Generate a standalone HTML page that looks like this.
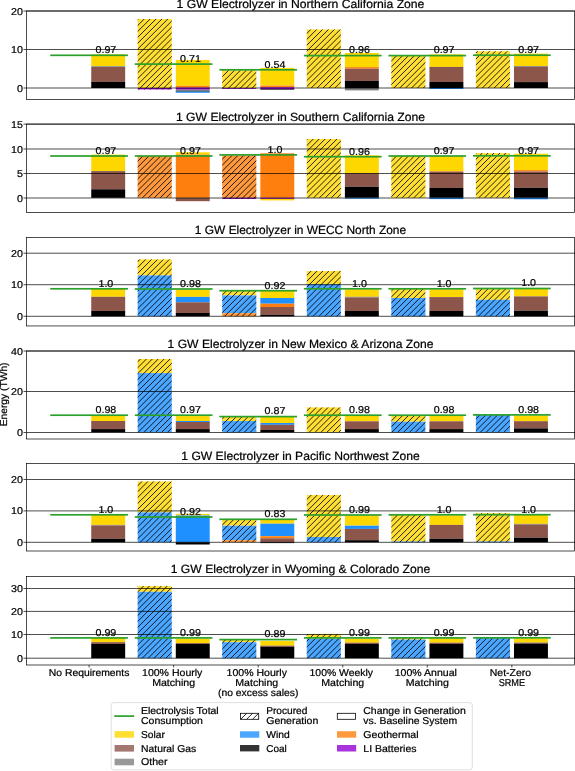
<!DOCTYPE html>
<html><head><meta charset="utf-8"><style>
html,body{margin:0;padding:0;background:#fff;width:575px;height:771px;overflow:hidden}
svg{display:block;will-change:transform}
text{font-family:"Liberation Sans",sans-serif;fill:#000;stroke:#000;stroke-width:0.22px}
</style></head><body>
<svg width="575" height="771" viewBox="0 0 575 771" text-rendering="geometricPrecision">
<rect width="575" height="771" fill="#fff"/>
<defs>
<pattern id="h" patternUnits="userSpaceOnUse" width="4.1719" height="10" patternTransform="rotate(45)">
<rect x="2.2370" y="0" width="0.9" height="10" fill="#000" fill-opacity="0.85"/>
</pattern>
</defs>
<rect x="91.24" y="54.3" width="33.93" height="12" fill="#FFD700"/>
<rect x="91.24" y="66.3" width="33.93" height="0.7" fill="#6B7A8C"/>
<rect x="91.24" y="67" width="33.93" height="14.9" fill="#8C564B"/>
<rect x="91.24" y="81.9" width="33.93" height="6.1" fill="#000000"/>
<rect x="137.68" y="19" width="34.06" height="69" fill="#FFDF33"/>
<rect x="137.68" y="88" width="34.06" height="1.4" fill="#9400D3"/>
<clipPath id="c1"><rect x="137.68" y="19" width="34.06" height="70.4"/></clipPath><path clip-path="url(#c1)" d="M136.68 20.67L139.35 18M136.68 26.57L145.25 18M136.68 32.47L151.15 18M136.68 38.37L157.05 18M136.68 44.27L162.95 18M136.68 50.17L168.85 18M136.68 56.07L172.74 20.01M136.68 61.97L172.74 25.91M136.68 67.87L172.74 31.81M136.68 73.77L172.74 37.71M136.68 79.67L172.74 43.61M136.68 85.57L172.74 49.51M137.75 90.4L172.74 55.41M143.65 90.4L172.74 61.31M149.55 90.4L172.74 67.21M155.45 90.4L172.74 73.11M161.35 90.4L172.74 79.01M167.25 90.4L172.74 84.91" stroke="#000" stroke-opacity="0.85" stroke-width="1.0" fill="none"/>
<rect x="175.79" y="59.9" width="33.93" height="25.9" fill="#FFD700"/>
<rect x="175.79" y="85.8" width="33.93" height="1.8" fill="#FF7F0E"/>
<rect x="175.79" y="87.6" width="33.93" height="2.1" fill="#9400D3"/>
<rect x="175.79" y="89.7" width="33.93" height="1.2" fill="#808080"/>
<rect x="175.79" y="90.9" width="33.93" height="0.7" fill="#000000"/>
<rect x="175.79" y="91.6" width="33.93" height="1.2" fill="#1E90FF"/>
<rect x="222.23" y="70.3" width="34.06" height="17.7" fill="#FFDF33"/>
<rect x="222.23" y="88" width="34.06" height="0.8" fill="#9400D3"/>
<clipPath id="c2"><rect x="222.23" y="70.3" width="34.06" height="18.5"/></clipPath><path clip-path="url(#c2)" d="M221.23 71.82L223.75 69.3M221.23 77.72L229.65 69.3M221.23 83.62L235.55 69.3M221.23 89.52L241.45 69.3M226.85 89.8L247.35 69.3M232.75 89.8L253.25 69.3M238.65 89.8L257.29 71.16M244.55 89.8L257.29 77.06M250.45 89.8L257.29 82.96M256.35 89.8L257.29 88.86" stroke="#000" stroke-opacity="0.85" stroke-width="1.0" fill="none"/>
<rect x="260.34" y="67.9" width="33.93" height="17.7" fill="#FFD700"/>
<rect x="260.34" y="85.6" width="33.93" height="1.7" fill="#FF7F0E"/>
<rect x="260.34" y="87.3" width="33.93" height="1.8" fill="#9400D3"/>
<rect x="260.34" y="89.1" width="33.93" height="0.6" fill="#000000"/>
<rect x="306.78" y="29.5" width="34.06" height="58.5" fill="#FFDF33"/>
<clipPath id="c3"><rect x="306.78" y="29.5" width="34.06" height="58.5"/></clipPath><path clip-path="url(#c3)" d="M305.78 28.57L305.85 28.5M305.78 34.47L311.75 28.5M305.78 40.37L317.65 28.5M305.78 46.27L323.55 28.5M305.78 52.17L329.45 28.5M305.78 58.07L335.35 28.5M305.78 63.97L341.25 28.5M305.78 69.87L341.84 33.81M305.78 75.77L341.84 39.71M305.78 81.67L341.84 45.61M305.78 87.57L341.84 51.51M310.25 89L341.84 57.41M316.15 89L341.84 63.31M322.05 89L341.84 69.21M327.95 89L341.84 75.11M333.85 89L341.84 81.01M339.75 89L341.84 86.91" stroke="#000" stroke-opacity="0.85" stroke-width="1.0" fill="none"/>
<rect x="344.89" y="53" width="33.93" height="14.1" fill="#FFD700"/>
<rect x="344.89" y="67.1" width="33.93" height="1.6" fill="#FF7F0E"/>
<rect x="344.89" y="68.7" width="33.93" height="12.2" fill="#8C564B"/>
<rect x="344.89" y="80.9" width="33.93" height="7.1" fill="#000000"/>
<rect x="344.89" y="88" width="33.93" height="2.4" fill="#808080"/>
<rect x="391.33" y="55.6" width="34.06" height="32.4" fill="#FFDF33"/>
<clipPath id="c4"><rect x="391.33" y="55.6" width="34.06" height="32.4"/></clipPath><path clip-path="url(#c4)" d="M390.33 56.12L391.85 54.6M390.33 62.02L397.75 54.6M390.33 67.92L403.65 54.6M390.33 73.82L409.55 54.6M390.33 79.72L415.45 54.6M390.33 85.62L421.35 54.6M392.85 89L426.39 55.46M398.75 89L426.39 61.36M404.65 89L426.39 67.26M410.55 89L426.39 73.16M416.45 89L426.39 79.06M422.35 89L426.39 84.96" stroke="#000" stroke-opacity="0.85" stroke-width="1.0" fill="none"/>
<rect x="429.44" y="54.3" width="33.93" height="12.6" fill="#FFD700"/>
<rect x="429.44" y="66.9" width="33.93" height="15.1" fill="#8C564B"/>
<rect x="429.44" y="82" width="33.93" height="6" fill="#000000"/>
<rect x="429.44" y="88" width="33.93" height="1" fill="#1E90FF"/>
<rect x="475.88" y="51.3" width="34.06" height="36.7" fill="#FFDF33"/>
<clipPath id="c5"><rect x="475.88" y="51.3" width="34.06" height="36.7"/></clipPath><path clip-path="url(#c5)" d="M474.88 54.17L478.75 50.3M474.88 60.07L484.65 50.3M474.88 65.97L490.55 50.3M474.88 71.87L496.45 50.3M474.88 77.77L502.35 50.3M474.88 83.67L508.25 50.3M475.45 89L510.94 53.51M481.35 89L510.94 59.41M487.25 89L510.94 65.31M493.15 89L510.94 71.21M499.05 89L510.94 77.11M504.95 89L510.94 83.01M510.85 89L510.94 88.91" stroke="#000" stroke-opacity="0.85" stroke-width="1.0" fill="none"/>
<rect x="513.99" y="53.6" width="33.93" height="12.4" fill="#FFD700"/>
<rect x="513.99" y="66" width="33.93" height="0.7" fill="#6B7A8C"/>
<rect x="513.99" y="66.7" width="33.93" height="15.4" fill="#8C564B"/>
<rect x="513.99" y="82.1" width="33.93" height="5.9" fill="#000000"/>
<line x1="26.5" x2="575" y1="11" y2="11" stroke="#000" stroke-width="0.7"/>
<line x1="23.5" x2="26.5" y1="11" y2="11" stroke="#000" stroke-width="0.7"/>
<text x="22.9" y="14.5" font-size="10" text-anchor="end" textLength="11.9" lengthAdjust="spacingAndGlyphs">20</text>
<line x1="26.5" x2="575" y1="49.5" y2="49.5" stroke="#000" stroke-width="0.7"/>
<line x1="23.5" x2="26.5" y1="49.5" y2="49.5" stroke="#000" stroke-width="0.7"/>
<text x="22.9" y="53" font-size="10" text-anchor="end" textLength="11.9" lengthAdjust="spacingAndGlyphs">10</text>
<line x1="26.5" x2="575" y1="88" y2="88" stroke="#000" stroke-width="0.7"/>
<line x1="23.5" x2="26.5" y1="88" y2="88" stroke="#000" stroke-width="0.7"/>
<text x="22.9" y="91.5" font-size="10" text-anchor="end" textLength="5.95" lengthAdjust="spacingAndGlyphs">0</text>
<rect x="26.5" y="11" width="548" height="88.5" fill="none" stroke="#000" stroke-width="0.7"/>
<rect x="50.25" y="54.45" width="77.7" height="1.7" fill="#2CA02C"/>
<rect x="134.8" y="63.25" width="77.7" height="1.7" fill="#2CA02C"/>
<rect x="219.35" y="68.95" width="77.7" height="1.7" fill="#2CA02C"/>
<rect x="303.9" y="54.75" width="77.7" height="1.7" fill="#2CA02C"/>
<rect x="388.45" y="54.75" width="77.7" height="1.7" fill="#2CA02C"/>
<rect x="473" y="54.35" width="77.7" height="1.7" fill="#2CA02C"/>
<text x="105.9" y="53.1" font-size="10" text-anchor="middle" textLength="20.82" lengthAdjust="spacingAndGlyphs">0.97</text>
<text x="190.45" y="61.9" font-size="10" text-anchor="middle" textLength="20.82" lengthAdjust="spacingAndGlyphs">0.71</text>
<text x="275" y="67.6" font-size="10" text-anchor="middle" textLength="20.82" lengthAdjust="spacingAndGlyphs">0.54</text>
<text x="359.55" y="53.4" font-size="10" text-anchor="middle" textLength="20.82" lengthAdjust="spacingAndGlyphs">0.96</text>
<text x="444.1" y="53.4" font-size="10" text-anchor="middle" textLength="20.82" lengthAdjust="spacingAndGlyphs">0.97</text>
<text x="528.65" y="53" font-size="10" text-anchor="middle" textLength="20.82" lengthAdjust="spacingAndGlyphs">0.97</text>
<text x="300.5" y="7.9" font-size="11.9" text-anchor="middle" textLength="247.83" lengthAdjust="spacingAndGlyphs">1 GW Electrolyzer in Northern California Zone</text>
<rect x="91.24" y="154.6" width="33.93" height="16.5" fill="#FFD700"/>
<rect x="91.24" y="171.1" width="33.93" height="18.2" fill="#8C564B"/>
<rect x="91.24" y="189.3" width="33.93" height="8.5" fill="#000000"/>
<rect x="137.68" y="156" width="34.06" height="41.8" fill="#FF993E"/>
<clipPath id="c6"><rect x="137.68" y="156" width="34.06" height="41.8"/></clipPath><path clip-path="url(#c6)" d="M136.68 156.37L138.05 155M136.68 162.27L143.95 155M136.68 168.17L149.85 155M136.68 174.07L155.75 155M136.68 179.97L161.65 155M136.68 185.87L167.55 155M136.68 191.77L172.74 155.71M136.68 197.67L172.74 161.61M141.45 198.8L172.74 167.51M147.35 198.8L172.74 173.41M153.25 198.8L172.74 179.31M159.15 198.8L172.74 185.21M165.05 198.8L172.74 191.11M170.95 198.8L172.74 197.01" stroke="#000" stroke-opacity="0.85" stroke-width="1.0" fill="none"/>
<rect x="175.79" y="152.3" width="33.93" height="2.3" fill="#FFD700"/>
<rect x="175.79" y="154.6" width="33.93" height="43.2" fill="#FF7F0E"/>
<rect x="175.79" y="197.8" width="33.93" height="3.4" fill="#8C564B"/>
<rect x="222.23" y="155.4" width="34.06" height="42.4" fill="#FF993E"/>
<rect x="222.23" y="197.8" width="34.06" height="1.1" fill="#9400D3"/>
<clipPath id="c7"><rect x="222.23" y="155.4" width="34.06" height="43.5"/></clipPath><path clip-path="url(#c7)" d="M221.23 154.42L221.25 154.4M221.23 160.32L227.15 154.4M221.23 166.22L233.05 154.4M221.23 172.12L238.95 154.4M221.23 178.02L244.85 154.4M221.23 183.92L250.75 154.4M221.23 189.82L256.65 154.4M221.23 195.72L257.29 159.66M222.95 199.9L257.29 165.56M228.85 199.9L257.29 171.46M234.75 199.9L257.29 177.36M240.65 199.9L257.29 183.26M246.55 199.9L257.29 189.16M252.45 199.9L257.29 195.06" stroke="#000" stroke-opacity="0.85" stroke-width="1.0" fill="none"/>
<rect x="260.34" y="153.3" width="33.93" height="44.5" fill="#FF7F0E"/>
<rect x="260.34" y="197.8" width="33.93" height="1.1" fill="#9400D3"/>
<rect x="260.34" y="198.9" width="33.93" height="1.5" fill="#FFD700"/>
<rect x="306.78" y="139" width="34.06" height="58.8" fill="#FFDF33"/>
<clipPath id="c8"><rect x="306.78" y="139" width="34.06" height="58.8"/></clipPath><path clip-path="url(#c8)" d="M305.78 140.67L308.45 138M305.78 146.57L314.35 138M305.78 152.47L320.25 138M305.78 158.37L326.15 138M305.78 164.27L332.05 138M305.78 170.17L337.95 138M305.78 176.07L341.84 140.01M305.78 181.97L341.84 145.91M305.78 187.87L341.84 151.81M305.78 193.77L341.84 157.71M306.65 198.8L341.84 163.61M312.55 198.8L341.84 169.51M318.45 198.8L341.84 175.41M324.35 198.8L341.84 181.31M330.25 198.8L341.84 187.21M336.15 198.8L341.84 193.11" stroke="#000" stroke-opacity="0.85" stroke-width="1.0" fill="none"/>
<rect x="344.89" y="155.3" width="33.93" height="18" fill="#FFD700"/>
<rect x="344.89" y="173.3" width="33.93" height="13.5" fill="#8C564B"/>
<rect x="344.89" y="186.8" width="33.93" height="11" fill="#000000"/>
<rect x="344.89" y="197.8" width="33.93" height="0.9" fill="#1E90FF"/>
<rect x="391.33" y="156" width="34.06" height="41.8" fill="#FFDF33"/>
<clipPath id="c9"><rect x="391.33" y="156" width="34.06" height="41.8"/></clipPath><path clip-path="url(#c9)" d="M390.33 156.42L391.75 155M390.33 162.32L397.65 155M390.33 168.22L403.55 155M390.33 174.12L409.45 155M390.33 180.02L415.35 155M390.33 185.92L421.25 155M390.33 191.82L426.39 155.76M390.33 197.72L426.39 161.66M395.15 198.8L426.39 167.56M401.05 198.8L426.39 173.46M406.95 198.8L426.39 179.36M412.85 198.8L426.39 185.26M418.75 198.8L426.39 191.16M424.65 198.8L426.39 197.06" stroke="#000" stroke-opacity="0.85" stroke-width="1.0" fill="none"/>
<rect x="429.44" y="156.3" width="33.93" height="14.8" fill="#FFD700"/>
<rect x="429.44" y="171.1" width="33.93" height="0.6" fill="#FF7F0E"/>
<rect x="429.44" y="171.7" width="33.93" height="16.3" fill="#8C564B"/>
<rect x="429.44" y="188" width="33.93" height="9.8" fill="#000000"/>
<rect x="429.44" y="197.8" width="33.93" height="1.3" fill="#1E90FF"/>
<rect x="475.88" y="153.1" width="34.06" height="44.7" fill="#FFDF33"/>
<clipPath id="c10"><rect x="475.88" y="153.1" width="34.06" height="44.7"/></clipPath><path clip-path="url(#c10)" d="M474.88 154.47L477.25 152.1M474.88 160.37L483.15 152.1M474.88 166.27L489.05 152.1M474.88 172.17L494.95 152.1M474.88 178.07L500.85 152.1M474.88 183.97L506.75 152.1M474.88 189.87L510.94 153.81M474.88 195.77L510.94 159.71M477.75 198.8L510.94 165.61M483.65 198.8L510.94 171.51M489.55 198.8L510.94 177.41M495.45 198.8L510.94 183.31M501.35 198.8L510.94 189.21M507.25 198.8L510.94 195.11" stroke="#000" stroke-opacity="0.85" stroke-width="1.0" fill="none"/>
<rect x="513.99" y="153.7" width="33.93" height="16.4" fill="#FFD700"/>
<rect x="513.99" y="170.1" width="33.93" height="1.4" fill="#FF7F0E"/>
<rect x="513.99" y="171.5" width="33.93" height="16.3" fill="#8C564B"/>
<rect x="513.99" y="187.8" width="33.93" height="10" fill="#000000"/>
<rect x="513.99" y="197.8" width="33.93" height="1.5" fill="#1E90FF"/>
<line x1="26.5" x2="575" y1="124.1" y2="124.1" stroke="#000" stroke-width="0.7"/>
<line x1="23.5" x2="26.5" y1="124.1" y2="124.1" stroke="#000" stroke-width="0.7"/>
<text x="22.9" y="127.6" font-size="10" text-anchor="end" textLength="11.9" lengthAdjust="spacingAndGlyphs">15</text>
<line x1="26.5" x2="575" y1="149" y2="149" stroke="#000" stroke-width="0.7"/>
<line x1="23.5" x2="26.5" y1="149" y2="149" stroke="#000" stroke-width="0.7"/>
<text x="22.9" y="152.5" font-size="10" text-anchor="end" textLength="11.9" lengthAdjust="spacingAndGlyphs">10</text>
<line x1="26.5" x2="575" y1="173.5" y2="173.5" stroke="#000" stroke-width="0.7"/>
<line x1="23.5" x2="26.5" y1="173.5" y2="173.5" stroke="#000" stroke-width="0.7"/>
<text x="22.9" y="177" font-size="10" text-anchor="end" textLength="5.95" lengthAdjust="spacingAndGlyphs">5</text>
<line x1="26.5" x2="575" y1="198" y2="198" stroke="#000" stroke-width="0.7"/>
<line x1="23.5" x2="26.5" y1="198" y2="198" stroke="#000" stroke-width="0.7"/>
<text x="22.9" y="201.5" font-size="10" text-anchor="end" textLength="5.95" lengthAdjust="spacingAndGlyphs">0</text>
<rect x="26.5" y="124.1" width="548" height="88.4" fill="none" stroke="#000" stroke-width="0.7"/>
<rect x="50.25" y="155.15" width="77.7" height="1.7" fill="#2CA02C"/>
<rect x="134.8" y="155.15" width="77.7" height="1.7" fill="#2CA02C"/>
<rect x="219.35" y="154.05" width="77.7" height="1.7" fill="#2CA02C"/>
<rect x="303.9" y="155.85" width="77.7" height="1.7" fill="#2CA02C"/>
<rect x="388.45" y="155.15" width="77.7" height="1.7" fill="#2CA02C"/>
<rect x="473" y="154.95" width="77.7" height="1.7" fill="#2CA02C"/>
<text x="105.9" y="153.8" font-size="10" text-anchor="middle" textLength="20.82" lengthAdjust="spacingAndGlyphs">0.97</text>
<text x="190.45" y="153.8" font-size="10" text-anchor="middle" textLength="20.82" lengthAdjust="spacingAndGlyphs">0.97</text>
<text x="275" y="152.7" font-size="10" text-anchor="middle" textLength="14.87" lengthAdjust="spacingAndGlyphs">1.0</text>
<text x="359.55" y="154.5" font-size="10" text-anchor="middle" textLength="20.82" lengthAdjust="spacingAndGlyphs">0.96</text>
<text x="444.1" y="153.8" font-size="10" text-anchor="middle" textLength="20.82" lengthAdjust="spacingAndGlyphs">0.97</text>
<text x="528.65" y="153.6" font-size="10" text-anchor="middle" textLength="20.82" lengthAdjust="spacingAndGlyphs">0.97</text>
<text x="300.5" y="121" font-size="11.9" text-anchor="middle" textLength="249.02" lengthAdjust="spacingAndGlyphs">1 GW Electrolyzer in Southern California Zone</text>
<rect x="91.24" y="288.8" width="33.93" height="8" fill="#FFD700"/>
<rect x="91.24" y="296.8" width="33.93" height="14.2" fill="#8C564B"/>
<rect x="91.24" y="311" width="33.93" height="5.3" fill="#000000"/>
<rect x="137.68" y="259.4" width="34.06" height="16" fill="#FFDF33"/>
<rect x="137.68" y="275.4" width="34.06" height="40.9" fill="#4BA6FF"/>
<clipPath id="c11"><rect x="137.68" y="259.4" width="34.06" height="56.9"/></clipPath><path clip-path="url(#c11)" d="M136.68 262.57L140.85 258.4M136.68 268.47L146.75 258.4M136.68 274.37L152.65 258.4M136.68 280.27L158.55 258.4M136.68 286.17L164.45 258.4M136.68 292.07L170.35 258.4M136.68 297.97L172.74 261.91M136.68 303.87L172.74 267.81M136.68 309.77L172.74 273.71M136.68 315.67L172.74 279.61M140.95 317.3L172.74 285.51M146.85 317.3L172.74 291.41M152.75 317.3L172.74 297.31M158.65 317.3L172.74 303.21M164.55 317.3L172.74 309.11M170.45 317.3L172.74 315.01" stroke="#000" stroke-opacity="0.85" stroke-width="1.0" fill="none"/>
<rect x="175.79" y="289.9" width="33.93" height="7" fill="#FFD700"/>
<rect x="175.79" y="296.9" width="33.93" height="5.4" fill="#1E90FF"/>
<rect x="175.79" y="302.3" width="33.93" height="10.7" fill="#8C564B"/>
<rect x="175.79" y="313" width="33.93" height="3.3" fill="#000000"/>
<rect x="222.23" y="290.5" width="34.06" height="4.9" fill="#FFDF33"/>
<rect x="222.23" y="295.4" width="34.06" height="17.7" fill="#4BA6FF"/>
<rect x="222.23" y="313.1" width="34.06" height="3.2" fill="#FF993E"/>
<clipPath id="c12"><rect x="222.23" y="290.5" width="34.06" height="25.8"/></clipPath><path clip-path="url(#c12)" d="M221.23 290.12L221.85 289.5M221.23 296.02L227.75 289.5M221.23 301.92L233.65 289.5M221.23 307.82L239.55 289.5M221.23 313.72L245.45 289.5M223.55 317.3L251.35 289.5M229.45 317.3L257.25 289.5M235.35 317.3L257.29 295.36M241.25 317.3L257.29 301.26M247.15 317.3L257.29 307.16M253.05 317.3L257.29 313.06" stroke="#000" stroke-opacity="0.85" stroke-width="1.0" fill="none"/>
<rect x="260.34" y="291" width="33.93" height="7" fill="#FFD700"/>
<rect x="260.34" y="298" width="33.93" height="5.7" fill="#1E90FF"/>
<rect x="260.34" y="303.7" width="33.93" height="3.3" fill="#FF7F0E"/>
<rect x="260.34" y="307" width="33.93" height="7.9" fill="#8C564B"/>
<rect x="260.34" y="314.9" width="33.93" height="1.4" fill="#000000"/>
<rect x="306.78" y="271" width="34.06" height="13.1" fill="#FFDF33"/>
<rect x="306.78" y="284.1" width="34.06" height="32.2" fill="#4BA6FF"/>
<clipPath id="c13"><rect x="306.78" y="271" width="34.06" height="45.3"/></clipPath><path clip-path="url(#c13)" d="M305.78 270.47L306.25 270M305.78 276.37L312.15 270M305.78 282.27L318.05 270M305.78 288.17L323.95 270M305.78 294.07L329.85 270M305.78 299.97L335.75 270M305.78 305.87L341.65 270M305.78 311.77L341.84 275.71M306.15 317.3L341.84 281.61M312.05 317.3L341.84 287.51M317.95 317.3L341.84 293.41M323.85 317.3L341.84 299.31M329.75 317.3L341.84 305.21M335.65 317.3L341.84 311.11M341.55 317.3L341.84 317.01" stroke="#000" stroke-opacity="0.85" stroke-width="1.0" fill="none"/>
<rect x="344.89" y="289.3" width="33.93" height="7.5" fill="#FFD700"/>
<rect x="344.89" y="296.8" width="33.93" height="0.6" fill="#6B7A8C"/>
<rect x="344.89" y="297.4" width="33.93" height="13.6" fill="#8C564B"/>
<rect x="344.89" y="311" width="33.93" height="5.3" fill="#000000"/>
<rect x="391.33" y="289" width="34.06" height="9" fill="#FFDF33"/>
<rect x="391.33" y="298" width="34.06" height="18.3" fill="#4BA6FF"/>
<clipPath id="c14"><rect x="391.33" y="289" width="34.06" height="27.3"/></clipPath><path clip-path="url(#c14)" d="M390.33 292.12L394.45 288M390.33 298.02L400.35 288M390.33 303.92L406.25 288M390.33 309.82L412.15 288M390.33 315.72L418.05 288M394.65 317.3L423.95 288M400.55 317.3L426.39 291.46M406.45 317.3L426.39 297.36M412.35 317.3L426.39 303.26M418.25 317.3L426.39 309.16M424.15 317.3L426.39 315.06" stroke="#000" stroke-opacity="0.85" stroke-width="1.0" fill="none"/>
<rect x="429.44" y="289.3" width="33.93" height="7.8" fill="#FFD700"/>
<rect x="429.44" y="297.1" width="33.93" height="13.9" fill="#8C564B"/>
<rect x="429.44" y="311" width="33.93" height="5.3" fill="#000000"/>
<rect x="475.88" y="288.7" width="34.06" height="11.1" fill="#FFDF33"/>
<rect x="475.88" y="299.8" width="34.06" height="16.5" fill="#4BA6FF"/>
<clipPath id="c15"><rect x="475.88" y="288.7" width="34.06" height="27.6"/></clipPath><path clip-path="url(#c15)" d="M474.88 290.17L477.35 287.7M474.88 296.07L483.25 287.7M474.88 301.97L489.15 287.7M474.88 307.87L495.05 287.7M474.88 313.77L500.95 287.7M477.25 317.3L506.85 287.7M483.15 317.3L510.94 289.51M489.05 317.3L510.94 295.41M494.95 317.3L510.94 301.31M500.85 317.3L510.94 307.21M506.75 317.3L510.94 313.11" stroke="#000" stroke-opacity="0.85" stroke-width="1.0" fill="none"/>
<rect x="513.99" y="288.7" width="33.93" height="7.7" fill="#FFD700"/>
<rect x="513.99" y="296.4" width="33.93" height="14.3" fill="#8C564B"/>
<rect x="513.99" y="310.7" width="33.93" height="5.6" fill="#000000"/>
<line x1="26.5" x2="575" y1="253.2" y2="253.2" stroke="#000" stroke-width="0.7"/>
<line x1="23.5" x2="26.5" y1="253.2" y2="253.2" stroke="#000" stroke-width="0.7"/>
<text x="22.9" y="256.7" font-size="10" text-anchor="end" textLength="11.9" lengthAdjust="spacingAndGlyphs">20</text>
<line x1="26.5" x2="575" y1="284.7" y2="284.7" stroke="#000" stroke-width="0.7"/>
<line x1="23.5" x2="26.5" y1="284.7" y2="284.7" stroke="#000" stroke-width="0.7"/>
<text x="22.9" y="288.2" font-size="10" text-anchor="end" textLength="11.9" lengthAdjust="spacingAndGlyphs">10</text>
<line x1="26.5" x2="575" y1="316.3" y2="316.3" stroke="#000" stroke-width="0.7"/>
<line x1="23.5" x2="26.5" y1="316.3" y2="316.3" stroke="#000" stroke-width="0.7"/>
<text x="22.9" y="319.8" font-size="10" text-anchor="end" textLength="5.95" lengthAdjust="spacingAndGlyphs">0</text>
<rect x="26.5" y="237.5" width="548" height="88.45" fill="none" stroke="#000" stroke-width="0.7"/>
<rect x="50.25" y="287.95" width="77.7" height="1.7" fill="#2CA02C"/>
<rect x="134.8" y="288.15" width="77.7" height="1.7" fill="#2CA02C"/>
<rect x="219.35" y="289.85" width="77.7" height="1.7" fill="#2CA02C"/>
<rect x="303.9" y="287.95" width="77.7" height="1.7" fill="#2CA02C"/>
<rect x="388.45" y="287.95" width="77.7" height="1.7" fill="#2CA02C"/>
<rect x="473" y="287.65" width="77.7" height="1.7" fill="#2CA02C"/>
<text x="105.9" y="286.6" font-size="10" text-anchor="middle" textLength="14.87" lengthAdjust="spacingAndGlyphs">1.0</text>
<text x="190.45" y="286.8" font-size="10" text-anchor="middle" textLength="20.82" lengthAdjust="spacingAndGlyphs">0.98</text>
<text x="275" y="288.5" font-size="10" text-anchor="middle" textLength="20.82" lengthAdjust="spacingAndGlyphs">0.92</text>
<text x="359.55" y="286.6" font-size="10" text-anchor="middle" textLength="14.87" lengthAdjust="spacingAndGlyphs">1.0</text>
<text x="444.1" y="286.6" font-size="10" text-anchor="middle" textLength="14.87" lengthAdjust="spacingAndGlyphs">1.0</text>
<text x="528.65" y="286.3" font-size="10" text-anchor="middle" textLength="14.87" lengthAdjust="spacingAndGlyphs">1.0</text>
<text x="300.5" y="234.4" font-size="11.9" text-anchor="middle" textLength="211.22" lengthAdjust="spacingAndGlyphs">1 GW Electrolyzer in WECC North Zone</text>
<rect x="91.24" y="415.7" width="33.93" height="5.3" fill="#FFD700"/>
<rect x="91.24" y="421" width="33.93" height="8.1" fill="#8C564B"/>
<rect x="91.24" y="429.1" width="33.93" height="3.2" fill="#000000"/>
<rect x="137.68" y="359" width="34.06" height="14.1" fill="#FFDF33"/>
<rect x="137.68" y="373.1" width="34.06" height="59.2" fill="#4BA6FF"/>
<clipPath id="c16"><rect x="137.68" y="359" width="34.06" height="73.3"/></clipPath><path clip-path="url(#c16)" d="M136.68 362.87L141.55 358M136.68 368.77L147.45 358M136.68 374.67L153.35 358M136.68 380.57L159.25 358M136.68 386.47L165.15 358M136.68 392.37L171.05 358M136.68 398.27L172.74 362.21M136.68 404.17L172.74 368.11M136.68 410.07L172.74 374.01M136.68 415.97L172.74 379.91M136.68 421.87L172.74 385.81M136.68 427.77L172.74 391.71M137.05 433.3L172.74 397.61M142.95 433.3L172.74 403.51M148.85 433.3L172.74 409.41M154.75 433.3L172.74 415.31M160.65 433.3L172.74 421.21M166.55 433.3L172.74 427.11M172.45 433.3L172.74 433.01" stroke="#000" stroke-opacity="0.85" stroke-width="1.0" fill="none"/>
<rect x="175.79" y="416.1" width="33.93" height="4.9" fill="#FFD700"/>
<rect x="175.79" y="421" width="33.93" height="1" fill="#1E90FF"/>
<rect x="175.79" y="422" width="33.93" height="7.1" fill="#8C564B"/>
<rect x="175.79" y="429.1" width="33.93" height="3.2" fill="#000000"/>
<rect x="222.23" y="417" width="34.06" height="4" fill="#FFDF33"/>
<rect x="222.23" y="421" width="34.06" height="11.3" fill="#4BA6FF"/>
<clipPath id="c17"><rect x="222.23" y="417" width="34.06" height="15.3"/></clipPath><path clip-path="url(#c17)" d="M221.23 419.92L225.15 416M221.23 425.82L231.05 416M221.23 431.72L236.95 416M225.55 433.3L242.85 416M231.45 433.3L248.75 416M237.35 433.3L254.65 416M243.25 433.3L257.29 419.26M249.15 433.3L257.29 425.16M255.05 433.3L257.29 431.06" stroke="#000" stroke-opacity="0.85" stroke-width="1.0" fill="none"/>
<rect x="260.34" y="417" width="33.93" height="6" fill="#FFD700"/>
<rect x="260.34" y="423" width="33.93" height="1.8" fill="#1E90FF"/>
<rect x="260.34" y="424.8" width="33.93" height="5.2" fill="#8C564B"/>
<rect x="260.34" y="430" width="33.93" height="2.3" fill="#000000"/>
<rect x="306.78" y="407.4" width="34.06" height="24.9" fill="#FFDF33"/>
<clipPath id="c18"><rect x="306.78" y="407.4" width="34.06" height="24.9"/></clipPath><path clip-path="url(#c18)" d="M305.78 412.07L311.45 406.4M305.78 417.97L317.35 406.4M305.78 423.87L323.25 406.4M305.78 429.77L329.15 406.4M308.15 433.3L335.05 406.4M314.05 433.3L340.95 406.4M319.95 433.3L341.84 411.41M325.85 433.3L341.84 417.31M331.75 433.3L341.84 423.21M337.65 433.3L341.84 429.11" stroke="#000" stroke-opacity="0.85" stroke-width="1.0" fill="none"/>
<rect x="344.89" y="415.7" width="33.93" height="5.6" fill="#FFD700"/>
<rect x="344.89" y="421.3" width="33.93" height="7.8" fill="#8C564B"/>
<rect x="344.89" y="429.1" width="33.93" height="3.2" fill="#000000"/>
<rect x="391.33" y="415.7" width="34.06" height="6" fill="#FFDF33"/>
<rect x="391.33" y="421.7" width="34.06" height="10.6" fill="#4BA6FF"/>
<clipPath id="c19"><rect x="391.33" y="415.7" width="34.06" height="16.6"/></clipPath><path clip-path="url(#c19)" d="M390.33 416.02L391.65 414.7M390.33 421.92L397.55 414.7M390.33 427.82L403.45 414.7M390.75 433.3L409.35 414.7M396.65 433.3L415.25 414.7M402.55 433.3L421.15 414.7M408.45 433.3L426.39 415.36M414.35 433.3L426.39 421.26M420.25 433.3L426.39 427.16M426.15 433.3L426.39 433.06" stroke="#000" stroke-opacity="0.85" stroke-width="1.0" fill="none"/>
<rect x="429.44" y="415.7" width="33.93" height="5.6" fill="#FFD700"/>
<rect x="429.44" y="421.3" width="33.93" height="7.8" fill="#8C564B"/>
<rect x="429.44" y="429.1" width="33.93" height="3.2" fill="#000000"/>
<rect x="475.88" y="415" width="34.06" height="17.3" fill="#4BA6FF"/>
<clipPath id="c20"><rect x="475.88" y="415" width="34.06" height="17.3"/></clipPath><path clip-path="url(#c20)" d="M474.88 414.07L474.95 414M474.88 419.97L480.85 414M474.88 425.87L486.75 414M474.88 431.77L492.65 414M479.25 433.3L498.55 414M485.15 433.3L504.45 414M491.05 433.3L510.35 414M496.95 433.3L510.94 419.31M502.85 433.3L510.94 425.21M508.75 433.3L510.94 431.11" stroke="#000" stroke-opacity="0.85" stroke-width="1.0" fill="none"/>
<rect x="513.99" y="415.6" width="33.93" height="5.6" fill="#FFD700"/>
<rect x="513.99" y="421.2" width="33.93" height="7.2" fill="#8C564B"/>
<rect x="513.99" y="428.4" width="33.93" height="3.9" fill="#000000"/>
<line x1="26.5" x2="575" y1="351" y2="351" stroke="#000" stroke-width="0.7"/>
<line x1="23.5" x2="26.5" y1="351" y2="351" stroke="#000" stroke-width="0.7"/>
<text x="22.9" y="354.5" font-size="10" text-anchor="end" textLength="11.9" lengthAdjust="spacingAndGlyphs">40</text>
<line x1="26.5" x2="575" y1="391.5" y2="391.5" stroke="#000" stroke-width="0.7"/>
<line x1="23.5" x2="26.5" y1="391.5" y2="391.5" stroke="#000" stroke-width="0.7"/>
<text x="22.9" y="395" font-size="10" text-anchor="end" textLength="11.9" lengthAdjust="spacingAndGlyphs">20</text>
<line x1="26.5" x2="575" y1="432.5" y2="432.5" stroke="#000" stroke-width="0.7"/>
<line x1="23.5" x2="26.5" y1="432.5" y2="432.5" stroke="#000" stroke-width="0.7"/>
<text x="22.9" y="436" font-size="10" text-anchor="end" textLength="5.95" lengthAdjust="spacingAndGlyphs">0</text>
<rect x="26.5" y="351" width="548" height="88" fill="none" stroke="#000" stroke-width="0.7"/>
<rect x="50.25" y="414.35" width="77.7" height="1.7" fill="#2CA02C"/>
<rect x="134.8" y="414.35" width="77.7" height="1.7" fill="#2CA02C"/>
<rect x="219.35" y="415.75" width="77.7" height="1.7" fill="#2CA02C"/>
<rect x="303.9" y="414.35" width="77.7" height="1.7" fill="#2CA02C"/>
<rect x="388.45" y="414.35" width="77.7" height="1.7" fill="#2CA02C"/>
<rect x="473" y="414.05" width="77.7" height="1.7" fill="#2CA02C"/>
<text x="105.9" y="413" font-size="10" text-anchor="middle" textLength="20.82" lengthAdjust="spacingAndGlyphs">0.98</text>
<text x="190.45" y="413" font-size="10" text-anchor="middle" textLength="20.82" lengthAdjust="spacingAndGlyphs">0.97</text>
<text x="275" y="414.4" font-size="10" text-anchor="middle" textLength="20.82" lengthAdjust="spacingAndGlyphs">0.87</text>
<text x="359.55" y="413" font-size="10" text-anchor="middle" textLength="20.82" lengthAdjust="spacingAndGlyphs">0.98</text>
<text x="444.1" y="413" font-size="10" text-anchor="middle" textLength="20.82" lengthAdjust="spacingAndGlyphs">0.98</text>
<text x="528.65" y="412.7" font-size="10" text-anchor="middle" textLength="20.82" lengthAdjust="spacingAndGlyphs">0.98</text>
<text x="300.5" y="347.9" font-size="11.9" text-anchor="middle" textLength="265.8" lengthAdjust="spacingAndGlyphs">1 GW Electrolyzer in New Mexico &amp; Arizona Zone</text>
<rect x="91.24" y="514.8" width="33.93" height="10.1" fill="#FFD700"/>
<rect x="91.24" y="524.9" width="33.93" height="0.6" fill="#808080"/>
<rect x="91.24" y="525.5" width="33.93" height="13.3" fill="#8C564B"/>
<rect x="91.24" y="538.8" width="33.93" height="3.5" fill="#000000"/>
<rect x="137.68" y="481.4" width="34.06" height="31" fill="#FFDF33"/>
<rect x="137.68" y="512.4" width="34.06" height="29.9" fill="#4BA6FF"/>
<clipPath id="c21"><rect x="137.68" y="481.4" width="34.06" height="60.9"/></clipPath><path clip-path="url(#c21)" d="M136.68 480.87L137.15 480.4M136.68 486.77L143.05 480.4M136.68 492.67L148.95 480.4M136.68 498.57L154.85 480.4M136.68 504.47L160.75 480.4M136.68 510.37L166.65 480.4M136.68 516.27L172.55 480.4M136.68 522.17L172.74 486.11M136.68 528.07L172.74 492.01M136.68 533.97L172.74 497.91M136.68 539.87L172.74 503.81M139.15 543.3L172.74 509.71M145.05 543.3L172.74 515.61M150.95 543.3L172.74 521.51M156.85 543.3L172.74 527.41M162.75 543.3L172.74 533.31M168.65 543.3L172.74 539.21" stroke="#000" stroke-opacity="0.85" stroke-width="1.0" fill="none"/>
<rect x="175.79" y="513.9" width="33.93" height="1.6" fill="#FFD700"/>
<rect x="175.79" y="515.5" width="33.93" height="26.8" fill="#1E90FF"/>
<rect x="175.79" y="542.3" width="33.93" height="2.2" fill="#000000"/>
<rect x="222.23" y="519.7" width="34.06" height="6" fill="#FFDF33"/>
<rect x="222.23" y="525.7" width="34.06" height="14.5" fill="#4BA6FF"/>
<rect x="222.23" y="540.2" width="34.06" height="2.1" fill="#FF993E"/>
<clipPath id="c22"><rect x="222.23" y="519.7" width="34.06" height="22.6"/></clipPath><path clip-path="url(#c22)" d="M221.23 520.22L222.75 518.7M221.23 526.12L228.65 518.7M221.23 532.02L234.55 518.7M221.23 537.92L240.45 518.7M221.75 543.3L246.35 518.7M227.65 543.3L252.25 518.7M233.55 543.3L257.29 519.56M239.45 543.3L257.29 525.46M245.35 543.3L257.29 531.36M251.25 543.3L257.29 537.26M257.15 543.3L257.29 543.16" stroke="#000" stroke-opacity="0.85" stroke-width="1.0" fill="none"/>
<rect x="260.34" y="519.7" width="33.93" height="4" fill="#FFD700"/>
<rect x="260.34" y="523.7" width="33.93" height="12.5" fill="#1E90FF"/>
<rect x="260.34" y="536.2" width="33.93" height="2.1" fill="#FF7F0E"/>
<rect x="260.34" y="538.3" width="33.93" height="4" fill="#8C564B"/>
<rect x="260.34" y="542.3" width="33.93" height="0.8" fill="#000000"/>
<rect x="306.78" y="495" width="34.06" height="42" fill="#FFDF33"/>
<rect x="306.78" y="537" width="34.06" height="5.3" fill="#4BA6FF"/>
<clipPath id="c23"><rect x="306.78" y="495" width="34.06" height="47.3"/></clipPath><path clip-path="url(#c23)" d="M305.78 494.67L306.45 494M305.78 500.57L312.35 494M305.78 506.47L318.25 494M305.78 512.37L324.15 494M305.78 518.27L330.05 494M305.78 524.17L335.95 494M305.78 530.07L341.84 494.01M305.78 535.97L341.84 499.91M305.78 541.87L341.84 505.81M310.25 543.3L341.84 511.71M316.15 543.3L341.84 517.61M322.05 543.3L341.84 523.51M327.95 543.3L341.84 529.41M333.85 543.3L341.84 535.31M339.75 543.3L341.84 541.21" stroke="#000" stroke-opacity="0.85" stroke-width="1.0" fill="none"/>
<rect x="344.89" y="515.7" width="33.93" height="10" fill="#FFD700"/>
<rect x="344.89" y="525.7" width="33.93" height="3.2" fill="#1E90FF"/>
<rect x="344.89" y="528.9" width="33.93" height="11.3" fill="#8C564B"/>
<rect x="344.89" y="540.2" width="33.93" height="2.1" fill="#000000"/>
<rect x="391.33" y="514.8" width="34.06" height="26.7" fill="#FFDF33"/>
<rect x="391.33" y="541.5" width="34.06" height="0.8" fill="#4BA6FF"/>
<clipPath id="c24"><rect x="391.33" y="514.8" width="34.06" height="27.5"/></clipPath><path clip-path="url(#c24)" d="M390.33 516.32L392.85 513.8M390.33 522.22L398.75 513.8M390.33 528.12L404.65 513.8M390.33 534.02L410.55 513.8M390.33 539.92L416.45 513.8M392.85 543.3L422.35 513.8M398.75 543.3L426.39 515.66M404.65 543.3L426.39 521.56M410.55 543.3L426.39 527.46M416.45 543.3L426.39 533.36M422.35 543.3L426.39 539.26" stroke="#000" stroke-opacity="0.85" stroke-width="1.0" fill="none"/>
<rect x="429.44" y="515.3" width="33.93" height="9.6" fill="#FFD700"/>
<rect x="429.44" y="524.9" width="33.93" height="13.9" fill="#8C564B"/>
<rect x="429.44" y="538.8" width="33.93" height="3.5" fill="#000000"/>
<rect x="475.88" y="513.2" width="34.06" height="28.3" fill="#FFDF33"/>
<rect x="475.88" y="541.5" width="34.06" height="0.8" fill="#4BA6FF"/>
<clipPath id="c25"><rect x="475.88" y="513.2" width="34.06" height="29.1"/></clipPath><path clip-path="url(#c25)" d="M474.88 514.37L477.05 512.2M474.88 520.27L482.95 512.2M474.88 526.17L488.85 512.2M474.88 532.07L494.75 512.2M474.88 537.97L500.65 512.2M475.45 543.3L506.55 512.2M481.35 543.3L510.94 513.71M487.25 543.3L510.94 519.61M493.15 543.3L510.94 525.51M499.05 543.3L510.94 531.41M504.95 543.3L510.94 537.31M510.85 543.3L510.94 543.21" stroke="#000" stroke-opacity="0.85" stroke-width="1.0" fill="none"/>
<rect x="513.99" y="514.7" width="33.93" height="9.2" fill="#FFD700"/>
<rect x="513.99" y="523.9" width="33.93" height="0.6" fill="#6B7A8C"/>
<rect x="513.99" y="524.5" width="33.93" height="13.2" fill="#8C564B"/>
<rect x="513.99" y="537.7" width="33.93" height="4.6" fill="#000000"/>
<line x1="26.5" x2="575" y1="479.5" y2="479.5" stroke="#000" stroke-width="0.7"/>
<line x1="23.5" x2="26.5" y1="479.5" y2="479.5" stroke="#000" stroke-width="0.7"/>
<text x="22.9" y="483" font-size="10" text-anchor="end" textLength="11.9" lengthAdjust="spacingAndGlyphs">20</text>
<line x1="26.5" x2="575" y1="510.9" y2="510.9" stroke="#000" stroke-width="0.7"/>
<line x1="23.5" x2="26.5" y1="510.9" y2="510.9" stroke="#000" stroke-width="0.7"/>
<text x="22.9" y="514.4" font-size="10" text-anchor="end" textLength="11.9" lengthAdjust="spacingAndGlyphs">10</text>
<line x1="26.5" x2="575" y1="542.3" y2="542.3" stroke="#000" stroke-width="0.7"/>
<line x1="23.5" x2="26.5" y1="542.3" y2="542.3" stroke="#000" stroke-width="0.7"/>
<text x="22.9" y="545.8" font-size="10" text-anchor="end" textLength="5.95" lengthAdjust="spacingAndGlyphs">0</text>
<rect x="26.5" y="463.5" width="548" height="87.5" fill="none" stroke="#000" stroke-width="0.7"/>
<rect x="50.25" y="513.95" width="77.7" height="1.7" fill="#2CA02C"/>
<rect x="134.8" y="516.15" width="77.7" height="1.7" fill="#2CA02C"/>
<rect x="219.35" y="518.45" width="77.7" height="1.7" fill="#2CA02C"/>
<rect x="303.9" y="514.15" width="77.7" height="1.7" fill="#2CA02C"/>
<rect x="388.45" y="513.95" width="77.7" height="1.7" fill="#2CA02C"/>
<rect x="473" y="513.85" width="77.7" height="1.7" fill="#2CA02C"/>
<text x="105.9" y="512.6" font-size="10" text-anchor="middle" textLength="14.87" lengthAdjust="spacingAndGlyphs">1.0</text>
<text x="190.45" y="514.8" font-size="10" text-anchor="middle" textLength="20.82" lengthAdjust="spacingAndGlyphs">0.92</text>
<text x="275" y="517.1" font-size="10" text-anchor="middle" textLength="20.82" lengthAdjust="spacingAndGlyphs">0.83</text>
<text x="359.55" y="512.8" font-size="10" text-anchor="middle" textLength="20.82" lengthAdjust="spacingAndGlyphs">0.99</text>
<text x="444.1" y="512.6" font-size="10" text-anchor="middle" textLength="14.87" lengthAdjust="spacingAndGlyphs">1.0</text>
<text x="528.65" y="512.5" font-size="10" text-anchor="middle" textLength="14.87" lengthAdjust="spacingAndGlyphs">1.0</text>
<text x="300.5" y="460.4" font-size="11.9" text-anchor="middle" textLength="238.43" lengthAdjust="spacingAndGlyphs">1 GW Electrolyzer in Pacific Northwest Zone</text>
<rect x="91.24" y="637.9" width="33.93" height="4.3" fill="#FFD700"/>
<rect x="91.24" y="642.2" width="33.93" height="1.8" fill="#8C564B"/>
<rect x="91.24" y="644" width="33.93" height="14.2" fill="#000000"/>
<rect x="137.68" y="586.1" width="34.06" height="5.7" fill="#FFDF33"/>
<rect x="137.68" y="591.8" width="34.06" height="66.4" fill="#4BA6FF"/>
<clipPath id="c26"><rect x="137.68" y="586.1" width="34.06" height="72.1"/></clipPath><path clip-path="url(#c26)" d="M136.68 587.07L138.65 585.1M136.68 592.97L144.55 585.1M136.68 598.87L150.45 585.1M136.68 604.77L156.35 585.1M136.68 610.67L162.25 585.1M136.68 616.57L168.15 585.1M136.68 622.47L172.74 586.41M136.68 628.37L172.74 592.31M136.68 634.27L172.74 598.21M136.68 640.17L172.74 604.11M136.68 646.07L172.74 610.01M136.68 651.97L172.74 615.91M136.68 657.87L172.74 621.81M141.25 659.2L172.74 627.71M147.15 659.2L172.74 633.61M153.05 659.2L172.74 639.51M158.95 659.2L172.74 645.41M164.85 659.2L172.74 651.31M170.75 659.2L172.74 657.21" stroke="#000" stroke-opacity="0.85" stroke-width="1.0" fill="none"/>
<rect x="175.79" y="638.7" width="33.93" height="4.4" fill="#FFD700"/>
<rect x="175.79" y="643.1" width="33.93" height="0.9" fill="#8C564B"/>
<rect x="175.79" y="644" width="33.93" height="14.2" fill="#000000"/>
<rect x="222.23" y="639.6" width="34.06" height="2.6" fill="#FFDF33"/>
<rect x="222.23" y="642.2" width="34.06" height="16" fill="#4BA6FF"/>
<clipPath id="c27"><rect x="222.23" y="639.6" width="34.06" height="18.6"/></clipPath><path clip-path="url(#c27)" d="M221.23 644.12L226.75 638.6M221.23 650.02L232.65 638.6M221.23 655.92L238.55 638.6M223.85 659.2L244.45 638.6M229.75 659.2L250.35 638.6M235.65 659.2L256.25 638.6M241.55 659.2L257.29 643.46M247.45 659.2L257.29 649.36M253.35 659.2L257.29 655.26" stroke="#000" stroke-opacity="0.85" stroke-width="1.0" fill="none"/>
<rect x="260.34" y="641" width="33.93" height="4.7" fill="#FFD700"/>
<rect x="260.34" y="645.7" width="33.93" height="1.2" fill="#8C564B"/>
<rect x="260.34" y="646.9" width="33.93" height="11.3" fill="#000000"/>
<rect x="306.78" y="633.9" width="34.06" height="4.8" fill="#FFDF33"/>
<rect x="306.78" y="638.7" width="34.06" height="19.5" fill="#4BA6FF"/>
<clipPath id="c28"><rect x="306.78" y="633.9" width="34.06" height="24.3"/></clipPath><path clip-path="url(#c28)" d="M305.78 636.27L309.15 632.9M305.78 642.17L315.05 632.9M305.78 648.07L320.95 632.9M305.78 653.97L326.85 632.9M306.45 659.2L332.75 632.9M312.35 659.2L338.65 632.9M318.25 659.2L341.84 635.61M324.15 659.2L341.84 641.51M330.05 659.2L341.84 647.41M335.95 659.2L341.84 653.31" stroke="#000" stroke-opacity="0.85" stroke-width="1.0" fill="none"/>
<rect x="344.89" y="638.7" width="33.93" height="4" fill="#FFD700"/>
<rect x="344.89" y="642.7" width="33.93" height="1.3" fill="#8C564B"/>
<rect x="344.89" y="644" width="33.93" height="14.2" fill="#000000"/>
<rect x="391.33" y="637.9" width="34.06" height="1.7" fill="#FFDF33"/>
<rect x="391.33" y="639.6" width="34.06" height="18.6" fill="#4BA6FF"/>
<clipPath id="c29"><rect x="391.33" y="637.9" width="34.06" height="20.3"/></clipPath><path clip-path="url(#c29)" d="M390.33 640.22L393.65 636.9M390.33 646.12L399.55 636.9M390.33 652.02L405.45 636.9M390.33 657.92L411.35 636.9M394.95 659.2L417.25 636.9M400.85 659.2L423.15 636.9M406.75 659.2L426.39 639.56M412.65 659.2L426.39 645.46M418.55 659.2L426.39 651.36M424.45 659.2L426.39 657.26" stroke="#000" stroke-opacity="0.85" stroke-width="1.0" fill="none"/>
<rect x="429.44" y="638.2" width="33.93" height="4.5" fill="#FFD700"/>
<rect x="429.44" y="642.7" width="33.93" height="1.3" fill="#8C564B"/>
<rect x="429.44" y="644" width="33.93" height="14.2" fill="#000000"/>
<rect x="475.88" y="637.8" width="34.06" height="20.4" fill="#4BA6FF"/>
<clipPath id="c30"><rect x="475.88" y="637.8" width="34.06" height="20.4"/></clipPath><path clip-path="url(#c30)" d="M474.88 638.27L476.35 636.8M474.88 644.17L482.25 636.8M474.88 650.07L488.15 636.8M474.88 655.97L494.05 636.8M477.55 659.2L499.95 636.8M483.45 659.2L505.85 636.8M489.35 659.2L510.94 637.61M495.25 659.2L510.94 643.51M501.15 659.2L510.94 649.41M507.05 659.2L510.94 655.31" stroke="#000" stroke-opacity="0.85" stroke-width="1.0" fill="none"/>
<rect x="513.99" y="638.2" width="33.93" height="4.4" fill="#FFD700"/>
<rect x="513.99" y="642.6" width="33.93" height="1" fill="#8C564B"/>
<rect x="513.99" y="643.6" width="33.93" height="14.6" fill="#000000"/>
<line x1="26.5" x2="575" y1="588.5" y2="588.5" stroke="#000" stroke-width="0.7"/>
<line x1="23.5" x2="26.5" y1="588.5" y2="588.5" stroke="#000" stroke-width="0.7"/>
<text x="22.9" y="592" font-size="10" text-anchor="end" textLength="11.9" lengthAdjust="spacingAndGlyphs">30</text>
<line x1="26.5" x2="575" y1="611.4" y2="611.4" stroke="#000" stroke-width="0.7"/>
<line x1="23.5" x2="26.5" y1="611.4" y2="611.4" stroke="#000" stroke-width="0.7"/>
<text x="22.9" y="614.9" font-size="10" text-anchor="end" textLength="11.9" lengthAdjust="spacingAndGlyphs">20</text>
<line x1="26.5" x2="575" y1="634.5" y2="634.5" stroke="#000" stroke-width="0.7"/>
<line x1="23.5" x2="26.5" y1="634.5" y2="634.5" stroke="#000" stroke-width="0.7"/>
<text x="22.9" y="638" font-size="10" text-anchor="end" textLength="11.9" lengthAdjust="spacingAndGlyphs">10</text>
<line x1="26.5" x2="575" y1="658.2" y2="658.2" stroke="#000" stroke-width="0.7"/>
<line x1="23.5" x2="26.5" y1="658.2" y2="658.2" stroke="#000" stroke-width="0.7"/>
<text x="22.9" y="661.7" font-size="10" text-anchor="end" textLength="5.95" lengthAdjust="spacingAndGlyphs">0</text>
<rect x="26.5" y="576.5" width="548" height="88.5" fill="none" stroke="#000" stroke-width="0.7"/>
<rect x="50.25" y="637.05" width="77.7" height="1.7" fill="#2CA02C"/>
<rect x="134.8" y="637.05" width="77.7" height="1.7" fill="#2CA02C"/>
<rect x="219.35" y="638.75" width="77.7" height="1.7" fill="#2CA02C"/>
<rect x="303.9" y="637.05" width="77.7" height="1.7" fill="#2CA02C"/>
<rect x="388.45" y="637.05" width="77.7" height="1.7" fill="#2CA02C"/>
<rect x="473" y="636.95" width="77.7" height="1.7" fill="#2CA02C"/>
<text x="105.9" y="635.7" font-size="10" text-anchor="middle" textLength="20.82" lengthAdjust="spacingAndGlyphs">0.99</text>
<text x="190.45" y="635.7" font-size="10" text-anchor="middle" textLength="20.82" lengthAdjust="spacingAndGlyphs">0.99</text>
<text x="275" y="637.4" font-size="10" text-anchor="middle" textLength="20.82" lengthAdjust="spacingAndGlyphs">0.89</text>
<text x="359.55" y="635.7" font-size="10" text-anchor="middle" textLength="20.82" lengthAdjust="spacingAndGlyphs">0.99</text>
<text x="444.1" y="635.7" font-size="10" text-anchor="middle" textLength="20.82" lengthAdjust="spacingAndGlyphs">0.99</text>
<text x="528.65" y="635.6" font-size="10" text-anchor="middle" textLength="20.82" lengthAdjust="spacingAndGlyphs">0.99</text>
<text x="300.5" y="573.4" font-size="11.9" text-anchor="middle" textLength="259.49" lengthAdjust="spacingAndGlyphs">1 GW Electrolyzer in Wyoming &amp; Colorado Zone</text>
<line x1="89.1" x2="89.1" y1="665" y2="667.5" stroke="#000" stroke-width="0.7"/>
<text x="89.1" y="675.7" font-size="10" text-anchor="middle" textLength="80.69" lengthAdjust="spacingAndGlyphs">No Requirements</text>
<line x1="173.65" x2="173.65" y1="665" y2="667.5" stroke="#000" stroke-width="0.7"/>
<text x="172.2" y="675.7" font-size="10" text-anchor="middle" textLength="60.36" lengthAdjust="spacingAndGlyphs">100% Hourly</text>
<text x="173.65" y="686" font-size="10" text-anchor="middle" textLength="42.99" lengthAdjust="spacingAndGlyphs">Matching</text>
<line x1="258.2" x2="258.2" y1="665" y2="667.5" stroke="#000" stroke-width="0.7"/>
<text x="256.75" y="675.7" font-size="10" text-anchor="middle" textLength="60.36" lengthAdjust="spacingAndGlyphs">100% Hourly</text>
<text x="256.75" y="686" font-size="10" text-anchor="middle" textLength="42.99" lengthAdjust="spacingAndGlyphs">Matching</text>
<text x="258.2" y="696.3" font-size="10" text-anchor="middle" textLength="80.3" lengthAdjust="spacingAndGlyphs">(no excess sales)</text>
<line x1="342.75" x2="342.75" y1="665" y2="667.5" stroke="#000" stroke-width="0.7"/>
<text x="341.3" y="675.7" font-size="10" text-anchor="middle" textLength="63.45" lengthAdjust="spacingAndGlyphs">100% Weekly</text>
<text x="342.75" y="686" font-size="10" text-anchor="middle" textLength="42.99" lengthAdjust="spacingAndGlyphs">Matching</text>
<line x1="427.3" x2="427.3" y1="665" y2="667.5" stroke="#000" stroke-width="0.7"/>
<text x="425.85" y="675.7" font-size="10" text-anchor="middle" textLength="62.2" lengthAdjust="spacingAndGlyphs">100% Annual</text>
<text x="427.3" y="686" font-size="10" text-anchor="middle" textLength="42.99" lengthAdjust="spacingAndGlyphs">Matching</text>
<line x1="511.85" x2="511.85" y1="665" y2="667.5" stroke="#000" stroke-width="0.7"/>
<text x="510.4" y="675.7" font-size="10" text-anchor="middle" textLength="41.3" lengthAdjust="spacingAndGlyphs">Net-Zero</text>
<text x="511.85" y="686" font-size="10" text-anchor="middle" textLength="26.41" lengthAdjust="spacingAndGlyphs">SRME</text>
<g transform="translate(7.3,394.4) rotate(-90)"><text x="0" y="0" font-size="10" text-anchor="middle" textLength="63.88" lengthAdjust="spacingAndGlyphs">Energy (TWh)</text></g>
<rect x="111.2" y="702.6" width="361.1" height="67.2" rx="2.5" ry="2.5" fill="#fff" stroke="#d6d6d6" stroke-width="0.8"/>
<rect x="114.3" y="715.25" width="19.9" height="1.7" fill="#2CA02C"/>
<text x="141" y="713.5" font-size="10" text-anchor="start" textLength="77.7" lengthAdjust="spacingAndGlyphs">Electrolysis Total</text>
<text x="141" y="723.9" font-size="10" text-anchor="start" textLength="61.93" lengthAdjust="spacingAndGlyphs">Consumption</text>
<rect x="114.6" y="731.1" width="19.4" height="6.6" fill="#FFDF33"/>
<text x="141" y="737.7" font-size="10" text-anchor="start" textLength="23.83" lengthAdjust="spacingAndGlyphs">Solar</text>
<rect x="114.6" y="745.0" width="19.4" height="6.6" fill="#A3786F"/>
<text x="141" y="751.6" font-size="10" text-anchor="start" textLength="55.31" lengthAdjust="spacingAndGlyphs">Natural Gas</text>
<rect x="114.6" y="758.7" width="19.4" height="6.6" fill="#999999"/>
<text x="141" y="765.3" font-size="10" text-anchor="start" textLength="26.55" lengthAdjust="spacingAndGlyphs">Other</text>
<rect x="240.4" y="713.3" width="18.3" height="6.0" fill="#fff" stroke="#000" stroke-width="0.8"/>
<clipPath id="c31"><rect x="240.4" y="713.3" width="18.3" height="6"/></clipPath><path clip-path="url(#c31)" d="M239.4 714.7L241.8 712.3M239.7 720.3L247.7 712.3M245.6 720.3L253.6 712.3M251.5 720.3L259.5 712.3M257.4 720.3L259.7 718" stroke="#000" stroke-opacity="0.85" stroke-width="1.0" fill="none"/>
<text x="266.2" y="713.5" font-size="10" text-anchor="start" textLength="41.23" lengthAdjust="spacingAndGlyphs">Procured</text>
<text x="266.2" y="723.9" font-size="10" text-anchor="start" textLength="52.16" lengthAdjust="spacingAndGlyphs">Generation</text>
<rect x="240.0" y="731.3" width="19.3" height="6.4" fill="#4BA6FF"/>
<text x="266.2" y="737.9" font-size="10" text-anchor="start" textLength="23.5" lengthAdjust="spacingAndGlyphs">Wind</text>
<rect x="240.0" y="745.0" width="19.3" height="6.4" fill="#333333"/>
<text x="266.2" y="751.6" font-size="10" text-anchor="start" textLength="20.58" lengthAdjust="spacingAndGlyphs">Coal</text>
<rect x="337.3" y="713.3" width="18.3" height="6.0" fill="#fff" stroke="#000" stroke-width="0.8"/>
<text x="363.3" y="713.5" font-size="10" text-anchor="start" textLength="102.43" lengthAdjust="spacingAndGlyphs">Change in Generation</text>
<text x="363.3" y="723.9" font-size="10" text-anchor="start" textLength="93.83" lengthAdjust="spacingAndGlyphs">vs. Baseline System</text>
<rect x="337.0" y="731.2" width="19.2" height="6.5" fill="#FF993E"/>
<text x="363.3" y="737.8" font-size="10" text-anchor="start" textLength="55.18" lengthAdjust="spacingAndGlyphs">Geothermal</text>
<rect x="337.0" y="745.0" width="19.2" height="6.5" fill="#A933DC"/>
<text x="363.3" y="751.6" font-size="10" text-anchor="start" textLength="53.23" lengthAdjust="spacingAndGlyphs">LI Batteries</text>
</svg>
</body></html>
